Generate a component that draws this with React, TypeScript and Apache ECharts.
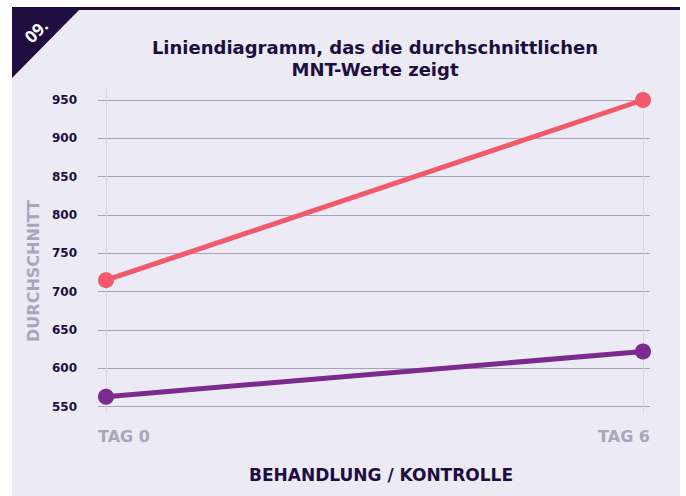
import React, { useEffect, useRef } from "react";
import * as echarts from "echarts";

const categories = ["TAG 0", "TAG 6"];
const behandlung = [715, 950];
const kontrolle = [563, 622];
const yMin = 550;
const yMax = 950;
const yStep = 50;
const titleText = "Liniendiagramm, das die durchschnittlichen\nMNT-Werte zeigt";
const yName = "DURCHSCHNITT";
const xName = "BEHANDLUNG / KONTROLLE";
const badge = "09.";

const W = 686;
const H = 496;
const DARK = "#1e0d3e";
const PANEL = "#ebeaf5";
const GRAYTXT = "#aaa5b9";

export default function App() {
  const ref = useRef<HTMLDivElement>(null);
  useEffect(() => {
    if (!ref.current) return;
    const chart = echarts.init(ref.current, undefined, { renderer: "svg" });
    // grid B (horizontal lines, labels)
    const bTop = 100, bBottom = 89.3, bLeft = 98, bRight = 36;
    // grid A (series, vertical lines) extends a little beyond grid B
    const aTop = 89, aBottom = 83, aLeft = 106, aRight = 43;
    const pxPerUnit = (H - bTop - bBottom) / (yMax - yMin);
    const aMax = yMax + (bTop - aTop) / pxPerUnit;
    const aMin = yMin - (bBottom - aBottom) / pxPerUnit;

    chart.setOption({
      animation: false,
      backgroundColor: "#ffffff",
      title: {
        text: titleText,
        left: 370,
        top: 31,
        textAlign: "center",
        textStyle: {
          color: DARK,
          fontFamily: "DejaVu Sans",
          fontWeight: "bold",
          fontSize: 18,
          lineHeight: 22,
        },
      },
      graphic: [
        {
          type: "rect",
          z: -10,
          shape: { x: 12, y: 8, width: 668, height: 488 },
          style: { fill: PANEL },
          silent: true,
        },
        {
          type: "rect",
          z: -9,
          shape: { x: 12, y: 7, width: 668, height: 3 },
          style: { fill: DARK },
          silent: true,
        },
        {
          type: "polygon",
          z: -9,
          shape: { points: [[12, 7], [82, 7], [12, 78]] },
          style: { fill: DARK },
          silent: true,
        },
        {
          type: "text",
          z: 10,
          x: 36,
          y: 31,
          rotation: Math.PI / 4,
          style: {
            text: badge,
            fill: "#ffffff",
            font: "bold 17px 'Open Sans'",
            textAlign: "center",
            textVerticalAlign: "middle",
          },
          silent: true,
        },
        {
          type: "text",
          z: 10,
          x: 33,
          y: 271,
          rotation: Math.PI / 2,
          style: {
            text: yName,
            fill: GRAYTXT,
            font: "bold 16px 'DejaVu Sans'",
            textAlign: "center",
            textVerticalAlign: "middle",
          },
          silent: true,
        },
      ],
      grid: [
        { left: aLeft, right: aRight, top: aTop, bottom: aBottom },
        { left: bLeft, right: bRight, top: bTop, bottom: bBottom },
      ],
      xAxis: [
        {
          type: "category",
          gridIndex: 0,
          data: categories,
          boundaryGap: false,
          axisLine: { show: false },
          axisTick: { show: false },
          axisLabel: { show: false },
          splitLine: { show: true, lineStyle: { color: "#d7d4e5", width: 1 } },
        },
        {
          type: "category",
          gridIndex: 1,
          data: categories,
          boundaryGap: false,
          axisLine: { show: false },
          axisTick: { show: false },
          splitLine: { show: false },
          axisLabel: {
            show: true,
            color: GRAYTXT,
            fontFamily: "DejaVu Sans",
            fontWeight: "bold",
            fontSize: 16,
            margin: 22,
            alignMinLabel: "left",
            alignMaxLabel: "right",
          },
          name: xName,
          nameLocation: "middle",
          nameGap: 60,
          nameTextStyle: {
            color: DARK,
            fontFamily: "DejaVu Sans",
            fontWeight: "bold",
            fontSize: 17,
            padding: [0, 0, 0, 14],
          },
        },
      ],
      yAxis: [
        {
          type: "value",
          gridIndex: 0,
          min: aMin,
          max: aMax,
          show: false,
          splitLine: { show: false },
        },
        {
          type: "value",
          gridIndex: 1,
          min: yMin,
          max: yMax,
          interval: yStep,
          axisLine: { show: false },
          axisTick: { show: false },
          axisLabel: {
            color: DARK,
            fontFamily: "DejaVu Sans",
            fontWeight: "bold",
            fontSize: 12,
            margin: 21,
          },
          splitLine: { show: true, lineStyle: { color: "#a9a3ba", width: 1 } },
        },
      ],
      series: [
        {
          name: "Behandlung",
          type: "line",
          xAxisIndex: 0,
          yAxisIndex: 0,
          data: behandlung,
          symbol: "circle",
          symbolSize: 16,
          lineStyle: { color: "#f05a6a", width: 5 },
          itemStyle: { color: "#f05a6a" },
          z: 5,
        },
        {
          name: "Kontrolle",
          type: "line",
          xAxisIndex: 0,
          yAxisIndex: 0,
          data: kontrolle,
          symbol: "circle",
          symbolSize: 16,
          lineStyle: { color: "#7b2a8d", width: 5 },
          itemStyle: { color: "#7b2a8d" },
          z: 5,
        },
      ],
    });
    return () => chart.dispose();
  }, []);
  return (
    <div
      ref={ref}
      style={{ position: "fixed", left: 0, top: 0, width: W, height: H }}
    />
  );
}
